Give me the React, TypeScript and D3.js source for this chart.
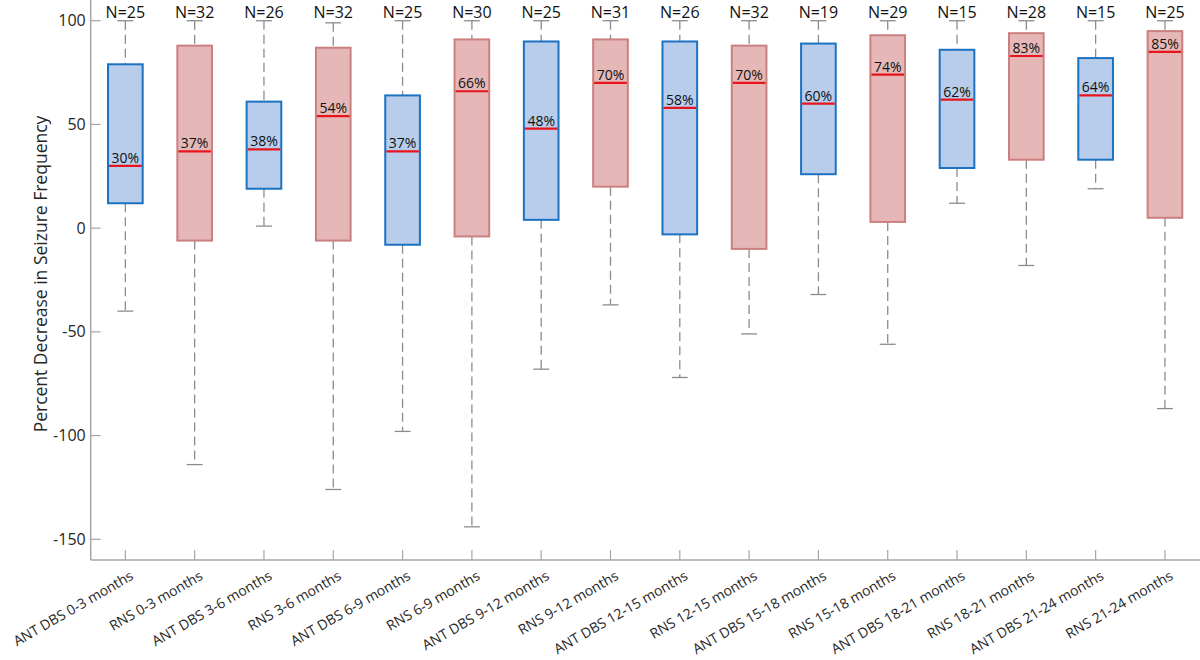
import React, { useEffect } from 'react'
import * as d3 from 'd3'

// values
const categories = [
	'ANT DBS 0-3 months', 'RNS 0-3 months', 'ANT DBS 3-6 months', 'RNS 3-6 months',
	'ANT DBS 6-9 months', 'RNS 6-9 months', 'ANT DBS 9-12 months', 'RNS 9-12 months',
	'ANT DBS 12-15 months', 'RNS 12-15 months', 'ANT DBS 15-18 months', 'RNS 15-18 months',
	'ANT DBS 18-21 months', 'RNS 18-21 months', 'ANT DBS 21-24 months', 'RNS 21-24 months',
]
const counts = [25, 32, 26, 32, 25, 30, 25, 31, 26, 32, 19, 29, 15, 28, 15, 25]
const medians = [30, 37, 38, 54, 37, 66, 48, 70, 58, 70, 60, 74, 62, 83, 64, 85]
const q1 = [12, -6, 19, -6, -8, -4, 4, 20, -3, -10, 26, 3, 29, 33, 33, 5]
const q3 = [79, 88, 61, 87, 64, 91, 90, 91, 90, 88, 89, 93, 86, 94, 82, 95]
const whiskerLow = [-40, -114, 1, -126, -98, -144, -68, -37, -72, -51, -32, -56, 12, -18, 19, -87]
const whiskerHigh = [100, 100, 100, 99, 100, 100, 100, 100, 100, 100, 100, 100, 100, 100, 100, 100]
const yTicks = [100, 50, 0, -50, -100, -150]

const FONT = '"Open Sans", "Noto Sans", sans-serif'

export default function App() {

	const width = 1200
	const height = 660
	const plot = { left: 90.7, right: 1199.6, top: 0, bottom: 560 }

	useEffect(() => {
		drawChart()
	// eslint-disable-next-line react-hooks/exhaustive-deps
	}, [])

	const drawChart = () => {

		d3.select('#box-container').select('svg').remove()

		const svg = d3
			.select('#box-container')
			.append('svg')
			.attr('width', width)
			.attr('height', height)
			.style('display', 'block')
			.style('background', '#fff')

		const x = d3.scaleBand()
			.domain(categories)
			.range([plot.left, plot.right])
			.padding(0)
		const y = d3.scaleLinear()
			.domain([-160, 110])
			.range([plot.bottom, plot.top])

		const bw = x.bandwidth()
		const boxW = bw * 0.5
		const capW = bw * 0.23
		const cx = (c: string) => (x(c) as number) + bw / 2

		const rows = categories.map((c, i) => ({
			cat: c,
			n: counts[i],
			med: medians[i],
			q1: q1[i],
			q3: q3[i],
			lo: whiskerLow[i],
			hi: whiskerHigh[i],
			ant: c.startsWith('ANT'),
		}))

		// axes
		const axisColor = '#a6a6a6'
		svg.append('line')
			.attr('x1', plot.left).attr('x2', plot.left)
			.attr('y1', plot.top).attr('y2', plot.bottom)
			.attr('stroke', axisColor).attr('stroke-width', 1.5)
		svg.append('line')
			.attr('x1', plot.left).attr('x2', width)
			.attr('y1', plot.bottom).attr('y2', plot.bottom)
			.attr('stroke', axisColor).attr('stroke-width', 1.5)

		// y ticks
		const yt = svg.append('g')
		yt.selectAll('line')
			.data(yTicks)
			.enter()
			.append('line')
			.attr('x1', plot.left).attr('x2', plot.left + 10)
			.attr('y1', (d) => y(d)).attr('y2', (d) => y(d))
			.attr('stroke', axisColor).attr('stroke-width', 1.2)
		yt.selectAll('text')
			.data(yTicks)
			.enter()
			.append('text')
			.attr('x', plot.left - 5)
			.attr('y', (d) => y(d))
			.attr('dy', '0.35em')
			.attr('text-anchor', 'end')
			.style('font-family', FONT)
			.style('font-size', '16px')
			.style('fill', '#262626')
			.text((d) => d)

		// y label
		svg.append('text')
			.attr('transform', `translate(41, ${274}) rotate(-90)`)
			.attr('text-anchor', 'middle')
			.attr('dy', '0.35em')
			.style('font-family', FONT)
			.style('font-size', '17.5px')
			.style('fill', '#262626')
			.text('Percent Decrease in Seizure Frequency')

		// x ticks
		const xt = svg.append('g')
		xt.selectAll('line')
			.data(categories)
			.enter()
			.append('line')
			.attr('x1', (d) => cx(d)).attr('x2', (d) => cx(d))
			.attr('y1', plot.bottom).attr('y2', plot.bottom - 10)
			.attr('stroke', axisColor).attr('stroke-width', 1.2)
		xt.selectAll('text')
			.data(categories)
			.enter()
			.append('text')
			.attr('transform', (d) => `translate(${cx(d) + 4}, ${plot.bottom + 10}) rotate(-30)`)
			.attr('text-anchor', 'end')
			.attr('dy', '0.72em')
			.style('font-family', FONT)
			.style('font-size', '14px')
			.style('fill', '#262626')
			.text((d) => d)

		const g = svg.selectAll('g.box')
			.data(rows)
			.enter()
			.append('g')
			.attr('class', 'box')

		// whiskers
		const whiskerColor = '#8c8c8c'
		g.append('line')
			.attr('x1', (d) => cx(d.cat)).attr('x2', (d) => cx(d.cat))
			.attr('y1', (d) => y(d.hi)).attr('y2', (d) => y(d.q3))
			.attr('stroke', whiskerColor).attr('stroke-width', 1.3)
			.attr('stroke-dasharray', '9,5')
		g.append('line')
			.attr('x1', (d) => cx(d.cat)).attr('x2', (d) => cx(d.cat))
			.attr('y1', (d) => y(d.q1)).attr('y2', (d) => y(d.lo))
			.attr('stroke', whiskerColor).attr('stroke-width', 1.3)
			.attr('stroke-dasharray', '9,5')
		g.append('line')
			.attr('x1', (d) => cx(d.cat) - capW / 2).attr('x2', (d) => cx(d.cat) + capW / 2)
			.attr('y1', (d) => y(d.hi)).attr('y2', (d) => y(d.hi))
			.attr('stroke', whiskerColor).attr('stroke-width', 1.3)
		g.append('line')
			.attr('x1', (d) => cx(d.cat) - capW / 2).attr('x2', (d) => cx(d.cat) + capW / 2)
			.attr('y1', (d) => y(d.lo)).attr('y2', (d) => y(d.lo))
			.attr('stroke', whiskerColor).attr('stroke-width', 1.3)

		// boxes
		g.append('rect')
			.attr('x', (d) => cx(d.cat) - boxW / 2)
			.attr('width', boxW)
			.attr('y', (d) => y(d.q3))
			.attr('height', (d) => y(d.q1) - y(d.q3))
			.style('fill', (d) => d.ant ? '#b8cdeb' : '#e5b8b7')
			.style('stroke', (d) => d.ant ? '#1a72c1' : '#cd7f80')
			.style('stroke-width', 2)

		// medians
		g.append('line')
			.attr('x1', (d) => cx(d.cat) - boxW / 2 + 1).attr('x2', (d) => cx(d.cat) + boxW / 2 - 1)
			.attr('y1', (d) => y(d.med)).attr('y2', (d) => y(d.med))
			.attr('stroke', '#e8151c').attr('stroke-width', 2.2)

		// median labels
		g.append('text')
			.attr('x', (d) => cx(d.cat))
			.attr('y', (d) => y(d.med) - 3)
			.attr('text-anchor', 'middle')
			.style('font-family', FONT)
			.style('font-size', '14px')
			.style('fill', '#111')
			.text((d) => `${d.med}%`)

		// N labels
		g.append('text')
			.attr('x', (d) => cx(d.cat))
			.attr('y', 17.5)
			.attr('text-anchor', 'middle')
			.style('font-family', FONT)
			.style('font-size', '16px')
			.style('fill', '#111')
			.text((d) => `N=${d.n}`)
	}

	return (
		<div id="box-container" style={{ position: 'absolute', left: 0, top: 0 }} />
	)
}
